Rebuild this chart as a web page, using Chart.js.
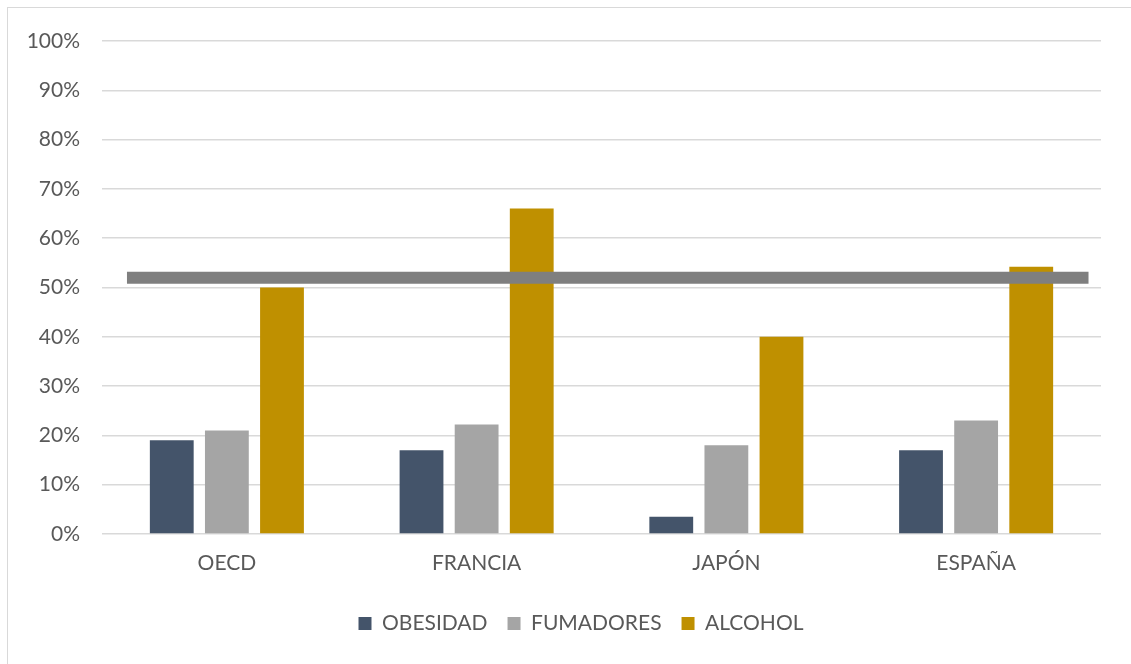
<!DOCTYPE html>
<html>
<head>
<meta charset="utf-8">
<script src="https://cdn.jsdelivr.net/npm/chart.js@4"></script>
<style>
  html, body { margin: 0; padding: 0; background: #fff; }
  #wrap { position: relative; width: 1131px; height: 664px; overflow: hidden; }
  #frame { position: absolute; left: 7px; top: 7px; width: 1140px; height: 680px; border: 1px solid #d9d9d9; box-sizing: border-box; }
  canvas { position: absolute; left: 0; top: 0; }
</style>
</head>
<body>
<div id="wrap">
  <div id="frame"></div>
  <canvas id="c" width="1131" height="664"></canvas>
</div>
<script>
const categories = ["OECD", "FRANCIA", "JAPÓN", "ESPAÑA"];
const obesidad = [19, 17, 3.5, 17];
const fumadores = [21, 22.2, 18, 23];
const alcohol = [50, 66, 40, 54.2];
const referenceLevel = 52;
const referenceSpan = [0.10, 3.95];
const yTicks = [0, 10, 20, 30, 40, 50, 60, 70, 80, 90, 100];

const FONT = "Lato";
const TEXT = "#595959";

// category i sits at position i + 0.5 on the x scale
const toPoints = arr => arr.map((v, i) => ({ x: i + 0.5, y: v }));
const lineData = referenceSpan.map(x => ({ x: x, y: referenceLevel }));

const legendShift = {
  id: "legendShift",
  afterLayout(chart) {
    if (chart.legend) {
      chart.legend.left += 17; chart.legend.right += 17;
      chart.legend.top += 9; chart.legend.bottom += 9;
    }
  }
};

new Chart(document.getElementById("c"), {
  type: "bar",
  data: {
    datasets: [
      { type: "bar", label: "OBESIDAD", data: toPoints(obesidad), backgroundColor: "#44546a", order: 1 },
      { type: "bar", label: "FUMADORES", data: toPoints(fumadores), backgroundColor: "#a5a5a5", order: 1 },
      { type: "bar", label: "ALCOHOL", data: toPoints(alcohol), backgroundColor: "#bf9000", order: 1 },
      { type: "line", label: "ref", data: lineData, borderColor: "#7f7f7f",
        borderWidth: 12, pointRadius: 0, borderCapStyle: "butt", fill: false, order: 0 }
    ]
  },
  plugins: [legendShift],
  options: {
    responsive: false,
    animation: false,
    datasets: { bar: { categoryPercentage: 0.662, barPercentage: 0.795 } },
    layout: { padding: { left: 27, right: 30, top: 41, bottom: 29 } },
    plugins: {
      tooltip: { enabled: false },
      legend: {
        position: "bottom",
        labels: {
          filter: item => item.text !== "ref",
          boxWidth: 13, boxHeight: 13, padding: 20,
          color: TEXT, font: { family: FONT, size: 21 }
        }
      }
    },
    scales: {
      x: {
        type: "linear",
        offset: false,
        min: 0, max: categories.length,
        afterBuildTicks: axis => { axis.ticks = categories.map((c, i) => ({ value: i + 0.5 })); },
        afterFit: axis => { axis.height = 50; },
        grid: { display: false, offset: false },
        border: { display: false },
        ticks: {
          color: TEXT, font: { family: FONT, size: 21 }, padding: 9,
          autoSkip: false, maxRotation: 0,
          callback: (v, i) => categories[i]
        }
      },
      y: {
        min: 0, max: 100,
        afterBuildTicks: axis => { axis.ticks = yTicks.map(v => ({ value: v })); },
        afterFit: axis => { axis.width = 75; },
        grid: { color: "#d9d9d9", lineWidth: 1.5, drawTicks: false },
        border: { display: false },
        ticks: { color: TEXT, font: { family: FONT, size: 21 }, padding: 22, callback: v => v + "%" }
      }
    }
  }
});
</script>
</body>
</html>
